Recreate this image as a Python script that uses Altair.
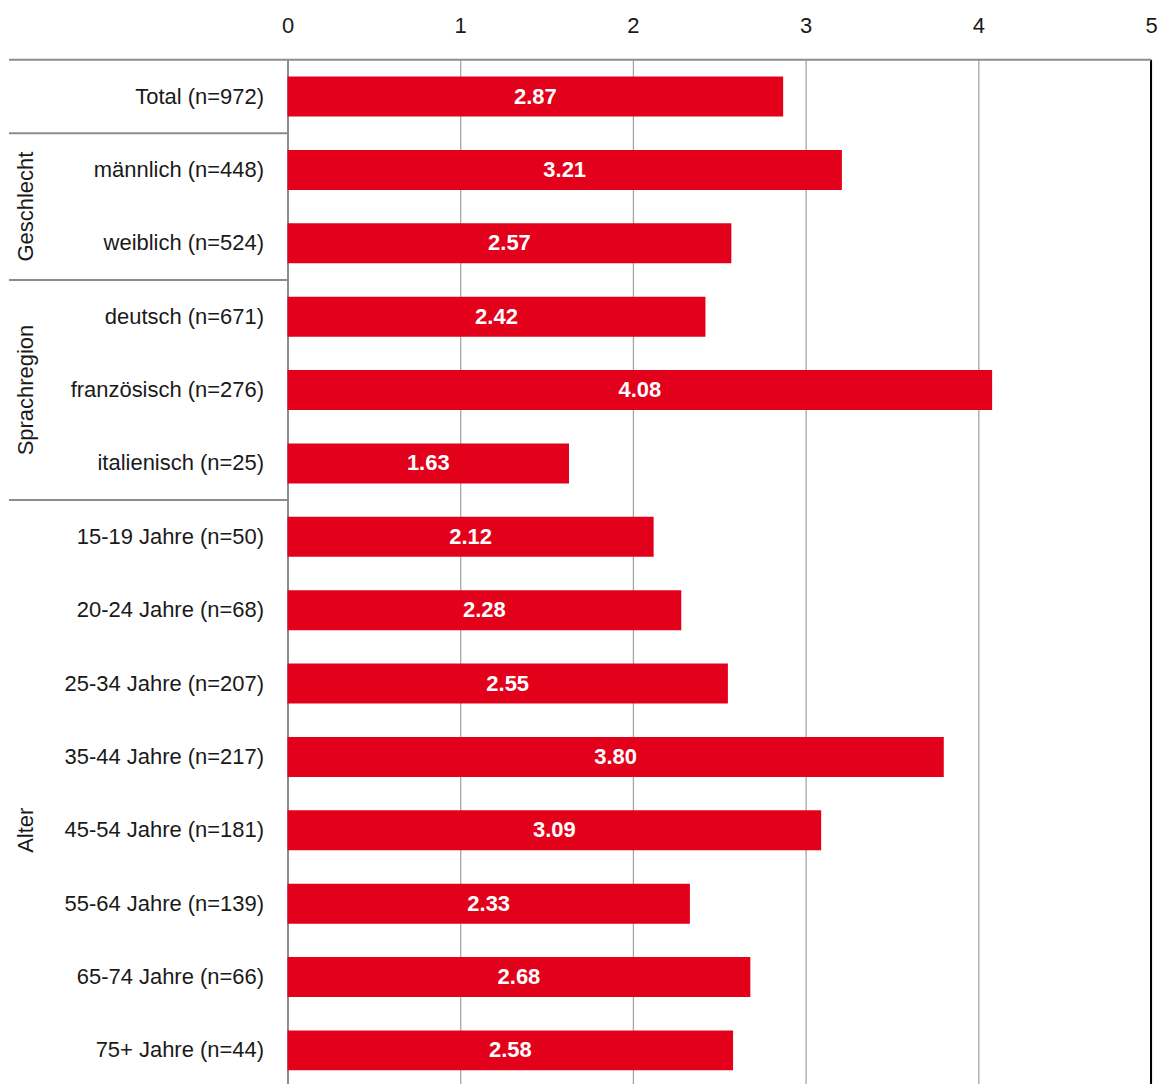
import altair as alt
import pandas as pd

rows = ["Total (n=972)", "männlich (n=448)", "weiblich (n=524)", "deutsch (n=671)",
        "französisch (n=276)", "italienisch (n=25)", "15-19 Jahre (n=50)",
        "20-24 Jahre (n=68)", "25-34 Jahre (n=207)", "35-44 Jahre (n=217)",
        "45-54 Jahre (n=181)", "55-64 Jahre (n=139)", "65-74 Jahre (n=66)",
        "75+ Jahre (n=44)"]
values = [2.87, 3.21, 2.57, 2.42, 4.08, 1.63, 2.12, 2.28, 2.55, 3.80, 3.09, 2.33, 2.68, 2.58]

group_names = ["Geschlecht", "Sprachregion", "Alter"]
group_anchor = ["männlich (n=448)", "französisch (n=276)", "45-54 Jahre (n=181)"]
group_at_boundary = [True, False, False]
sep_after = ["Total (n=972)", "weiblich (n=524)", "italienisch (n=25)"]

FONT = "'Liberation Sans Narrow', 'Arial Narrow', 'Liberation Sans', Arial, sans-serif"
FS = 22
RED = "#E3001B"
LINE = "#8c8c8c"
TXT = "#1a1a1a"
W, H = 865, 1029
P_IN = 0.455
STEP = H / len(rows)
GAP_HALF = STEP * P_IN / 2

df = pd.DataFrame({"label": rows, "value": values})
df["half"] = df["value"] / 2

yscale = alt.Scale(paddingInner=P_IN, paddingOuter=P_IN / 2)

def Y(bp=None):
    kw = dict(sort=rows, scale=yscale)
    if bp is not None:
        kw["bandPosition"] = bp
    return alt.Y("label:N", **kw)

xscale = alt.Scale(domain=[0, 5], nice=False)

bars = alt.Chart(df).mark_bar(color=RED).encode(
    x=alt.X("value:Q", scale=xscale,
            axis=alt.Axis(orient="top", values=[0, 1, 2, 3, 4, 5], format="d",
                          grid=True, gridColor="#a6a6a6", gridWidth=1.3,
                          ticks=False, domain=False, labelPadding=22,
                          labelFlush=False,
                          labelFontSize=FS, labelFont=FONT, labelColor=TXT,
                          title=None)),
    y=alt.Y("label:N", sort=rows, scale=yscale,
            axis=alt.Axis(title=None, ticks=False, domain=True, domainColor=LINE,
                          domainWidth=2, labelPadding=24, labelFontSize=FS,
                          labelFont=FONT, labelColor=TXT, labelLimit=400)),
)

texts = alt.Chart(df).mark_text(color="white", fontWeight="bold", fontSize=FS,
                                font=FONT, baseline="middle", align="center").encode(
    x=alt.X("half:Q", scale=xscale),
    y=Y(),
    text=alt.Text("value:Q", format=".2f"),
)

right_border = alt.Chart(pd.DataFrame({"v": [5]})).mark_rule(
    color="black", strokeWidth=2).encode(x=alt.X("v:Q", scale=xscale))

top_line = alt.Chart(pd.DataFrame({"v": [0]})).mark_rule(
    color=LINE, strokeWidth=2).encode(
    x=alt.value(-279), x2=alt.value(W), y=alt.value(0))

sep_df = pd.DataFrame({"label": sep_after})
seps = alt.Chart(sep_df).mark_rule(color=LINE, strokeWidth=2, yOffset=GAP_HALF).encode(
    x=alt.value(-279), x2=alt.value(0), y=Y(1))

grp_frames = []
for name, anchor, at_b in zip(group_names, group_anchor, group_at_boundary):
    d = pd.DataFrame({"label": [anchor], "g": [name]})
    if at_b:
        mk = alt.Chart(d).mark_text(angle=270, fontSize=FS, font=FONT, color=TXT,
                                    align="center", baseline="middle", yOffset=GAP_HALF)
        enc = mk.encode(x=alt.value(-262), y=Y(1), text="g:N")
    else:
        mk = alt.Chart(d).mark_text(angle=270, fontSize=FS, font=FONT, color=TXT,
                                    align="center", baseline="middle")
        enc = mk.encode(x=alt.value(-262), y=Y(0.5), text="g:N")
    grp_frames.append(enc)

chart = alt.layer(bars, right_border, texts, top_line, seps, *grp_frames).properties(
    width=W, height=H,
    padding={"left": 0, "top": 6, "right": 0, "bottom": 0},
).configure_view(stroke=None)

chart.save("out.html", embed_options={"renderer": "svg", "actions": False})
